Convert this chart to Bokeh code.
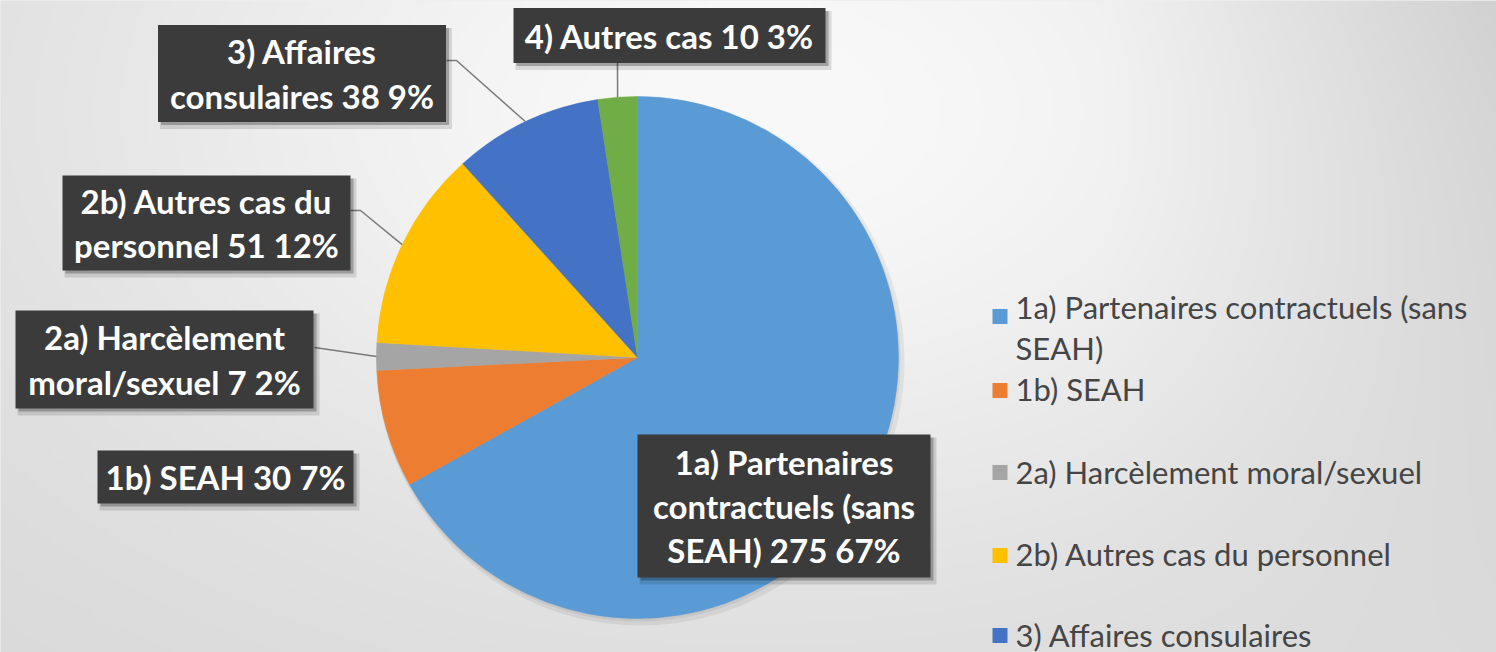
import numpy as np
from bokeh.plotting import figure
from bokeh.models import ColumnDataSource
from bokeh.embed import file_html
from bokeh.resources import INLINE
from bokeh.core.properties import value

# ---------------- data ----------------
categories = ["1a) Partenaires contractuels (sans SEAH)", "1b) SEAH",
              "2a) Harcèlement moral/sexuel", "2b) Autres cas du personnel",
              "3) Affaires consulaires", "4) Autres cas"]
counts = [275, 30, 7, 51, 38, 10]
percents = [67, 7, 2, 12, 9, 3]
colors = ["#5B9BD5", "#ED7D31", "#A5A5A5", "#FFC000", "#4472C4", "#70AD47"]
label_wrapped = ["1a) Partenaires\ncontractuels (sans\nSEAH)", "1b) SEAH",
                 "2a) Harcèlement\nmoral/sexuel", "2b) Autres cas du\npersonnel",
                 "3) Affaires\nconsulaires", "4) Autres cas"]
legend_wrapped = ["1a) Partenaires contractuels (sans\nSEAH)", "1b) SEAH",
                  "2a) Harcèlement moral/sexuel", "2b) Autres cas du personnel",
                  "3) Affaires consulaires", "4) Autres cas"]

# ---------------- layout (screen pixel coords of reference) ----------------
W, H = 1496, 652
def sx(X): return X
def sy(Y): return H - Y

CX, CY, R = sx(637), sy(357), 261

box_centers = [(783.5, 505.5), (225, 476.5), (164, 359), (206, 222.5), (301.5, 73), (669, 35)]
box_sizes = [(293, 143), (256, 53), (298, 98), (288, 95), (288, 97), (312, 55)]
leader_start = [None, None, (314, 347), (350, 210), (446, 60), (617, 62)]
leader_elbow = [None, None, None, (360, 210), (456, 60), None]
legend_y = [327, 388, 471, 553, 634]
legend_sq_y = [316, 390, 472, 555, 635]

p = figure(width=W, height=H, x_range=(0, W), y_range=(0, H),
           output_backend="svg", toolbar_location=None, min_border=0)
p.axis.visible = False
p.grid.visible = False
p.outline_line_color = None
p.background_fill_color = "#e0e0e0"
p.border_fill_color = "#e0e0e0"

# background gradient (style)
f = 4
gh, gw = H // f, W // f
yy, xx = np.mgrid[0:gh, 0:gw]
Xs = xx * f + f / 2
Ys = H - (yy * f + f / 2)
c = 216 + 33 * np.exp(-(((Xs - 760) / 720) ** 2 + ((Ys - 110) / 450) ** 2))
c -= 18 * np.clip((Xs - 1100) / 400, 0, 1) * np.clip(1 - Ys / 652, 0, 1)
c = np.clip(c, 0, 255).astype(np.uint32)
img = (255 << 24) | (c << 16) | (c << 8) | c
p.image_rgba(image=[img.astype(np.uint32)], x=0, y=0, dw=W, dh=H)

# pie shadow
p.circle(x=[CX + 3], y=[CY - 4], radius=R + 3, fill_color="#000000", fill_alpha=0.06, line_color=None)
p.circle(x=[CX + 1], y=[CY - 2], radius=R + 1, fill_color="#000000", fill_alpha=0.06, line_color=None)

# pie wedges (clockwise from 12 o'clock)
total = float(sum(counts))
fr = np.array(counts) / total
cum_end = np.cumsum(fr)
cum_start = cum_end - fr
start_ang = np.pi / 2 - 2 * np.pi * cum_end
end_ang = np.pi / 2 - 2 * np.pi * cum_start
mid = 2 * np.pi * (cum_start + cum_end) / 2
src = ColumnDataSource(dict(start=start_ang, end=end_ang, color=colors, cat=categories))
p.wedge(x=CX, y=CY, radius=R, start_angle="start", end_angle="end", direction="anticlock",
        fill_color="color", line_color="color", line_width=0.5, source=src)

# leader lines
xs_l, ys_l = [], []
for i in range(len(counts)):
    if leader_start[i] is None:
        continue
    ex = CX + R * np.sin(mid[i])
    ey = CY + R * np.cos(mid[i])
    pts = [leader_start[i]] + ([leader_elbow[i]] if leader_elbow[i] else [])
    xs_l.append([sx(a) for a, b in pts] + [ex])
    ys_l.append([sy(b) for a, b in pts] + [ey])
p.multi_line(xs=xs_l, ys=ys_l, line_color="#7a7a7a", line_width=1.5)

# label boxes
bx = [sx(a) for a, b in box_centers]
by = [sy(b) for a, b in box_centers]
bw = [a for a, b in box_sizes]
bh = [b for a, b in box_sizes]
p.rect(x=[v + 4 for v in bx], y=[v - 5 for v in by], width=[w + 4 for w in bw], height=[h + 4 for h in bh],
       fill_color="#000000", fill_alpha=0.12, line_color=None)
p.rect(x=[v + 3 for v in bx], y=[v - 3 for v in by], width=bw, height=bh,
       fill_color="#000000", fill_alpha=0.25, line_color=None)
p.rect(x=bx, y=by, width=bw, height=bh, fill_color="#3b3b3b", line_color=None)
label_text = [f"{w} {v} {pc}%" for w, v, pc in zip(label_wrapped, counts, percents)]
p.text(x=bx, y=by, text=label_text, text_font=value("Lato"), text_font_style="bold",
       text_font_size="33px", text_color="white", text_align="center",
       text_baseline="middle", text_line_height=1.11)

# legend (manual)
n_leg = len(legend_y)
p.rect(x=[sx(999.5)] * n_leg, y=[sy(v) for v in legend_sq_y], width=15, height=15,
       fill_color=colors[:n_leg], line_color=None)
p.text(x=[sx(1015)] * n_leg, y=[sy(v) for v in legend_y], text=legend_wrapped[:n_leg],
       text_font=value("Lato"), text_font_size="31px", text_color="#454545",
       text_align="left", text_baseline="middle", text_line_height=1.08)

open("out.html", "w").write(file_html(p, INLINE))
